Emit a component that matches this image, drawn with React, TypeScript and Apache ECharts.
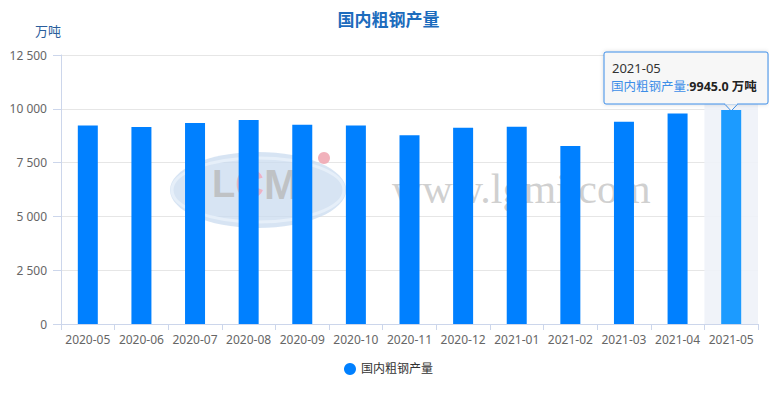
import React, { useEffect, useRef } from "react";
import * as echarts from "echarts";

const categories = [
  "2020-05", "2020-06", "2020-07", "2020-08", "2020-09", "2020-10", "2020-11",
  "2020-12", "2021-01", "2021-02", "2021-03", "2021-04", "2021-05",
];
const production = [9227, 9158, 9336, 9485, 9255, 9220, 8766, 9125, 9170, 8270, 9402, 9785, 9945];
const seriesName = "国内粗钢产量";
const unit = "万吨";
const yTicks = [0, 2500, 5000, 7500, 10000, 12500];

const FONT = '"Noto Sans", "Noto Sans CJK SC", sans-serif';
const fmt = (v: number) => String(v).replace(/\B(?=(\d{3})+(?!\d))/g, " ");

export default function App() {
  const ref = useRef<HTMLDivElement>(null);
  useEffect(() => {
    if (!ref.current) return;
    const chart = echarts.init(ref.current, undefined, { renderer: "svg" });
    const option: any = {
      animation: false,
      backgroundColor: "#fff",
      textStyle: { fontFamily: FONT },
      title: {
        text: seriesName,
        left: "center",
        top: 6,
        textStyle: { fontSize: 17, fontWeight: "bold", color: "#1d6cbd", fontFamily: FONT },
      },
      grid: { left: 61, right: 19, top: 55, bottom: 70 },
      legend: {
        bottom: 14,
        left: "center",
        icon: "circle",
        itemWidth: 12,
        itemHeight: 12,
        textStyle: { fontSize: 12, color: "#333", fontFamily: FONT },
        data: [seriesName],
      },
      xAxis: {
        type: "category",
        data: categories,
        axisLine: { lineStyle: { color: "#ccd6eb" } },
        axisTick: { show: true, length: 6, lineStyle: { color: "#ccd6eb" } },
        axisLabel: { color: "#666", fontSize: 12, margin: 9, interval: 0, fontFamily: FONT },
      },
      yAxis: {
        type: "value",
        min: yTicks[0],
        max: yTicks[yTicks.length - 1],
        interval: 2500,
        name: unit,
        nameGap: 18,
        nameTextStyle: { color: "#2a5d9c", fontSize: 13, align: "right", fontFamily: FONT },
        axisLine: { show: true, lineStyle: { color: "#ccd6eb" } },
        axisTick: { show: true, length: 8, lineStyle: { color: "#ccd6eb" } },
        axisLabel: { color: "#666", fontSize: 12, margin: 14, formatter: fmt, fontFamily: FONT },
        splitLine: { lineStyle: { color: "#e6e6e6" } },
      },
      series: [
        {
          name: seriesName,
          type: "bar",
          data: production,
          barWidth: 20,
          itemStyle: { color: "#0080ff" },
          emphasis: { itemStyle: { color: "#1c9bff" } },
          z: 3,
        },
      ],
    };
    chart.setOption(option);

    const last = categories.length - 1;
    const p = chart.convertToPixel({ seriesIndex: 0 }, [categories[last], production[last]]) as number[];
    const base = chart.convertToPixel({ seriesIndex: 0 }, [categories[last], 0]) as number[];
    const top = chart.convertToPixel({ seriesIndex: 0 }, [categories[last], yTicks[yTicks.length - 1]]) as number[];
    const catW = (777 - 61 - 19) / categories.length;
    const bx = 604, by = 52, bw = 164, bh = 52;

    chart.setOption({
      graphic: [
        // watermark
        {
          type: "group",
          silent: true,
          z: 1,
          children: [
            { type: "ellipse", shape: { cx: 258, cy: 190, rx: 88, ry: 38 }, style: { fill: "#c9dbef", opacity: 0.75 } },
            { type: "ellipse", shape: { cx: 258, cy: 190, rx: 86, ry: 32 }, style: { fill: "none", stroke: "#e6eff9", lineWidth: 3 } },
            {
              type: "text",
              x: 212,
              y: 162,
              style: {
                text: "{l|L}{c|C}{m|M}{i|i}",
                opacity: 0.8,
                rich: {
                  l: { fontSize: 38, fontWeight: "bold", fill: "#b9b9b9", fontFamily: "sans-serif" },
                  c: { fontSize: 40, fontWeight: "bold", fill: "#f0a8b4", fontFamily: "sans-serif" },
                  m: { fontSize: 42, fontWeight: "bold", fill: "#b9b9b9", fontFamily: "sans-serif" },
                  i: { fontSize: 44, fontWeight: "bold", fill: "#b9b9b9", fontFamily: "sans-serif" },
                },
              },
            },
            { type: "circle", shape: { cx: 324, cy: 158, r: 6 }, style: { fill: "#f0a8b4", opacity: 0.9 } },
            { type: "text", x: 392, y: 168, style: { text: "www.lgmi.com", font: "42px serif", fill: "#c4c4c4", opacity: 0.8 } },
          ],
        },
        // axis shadow
        {
          type: "rect",
          silent: true,
          z: 0,
          shape: { x: p[0] - catW / 2, y: top[1], width: catW, height: base[1] - top[1] },
          style: { fill: "#eef2f8", opacity: 0.9 },
        },
        // tooltip
        {
          type: "group",
          z: 200,
          children: [
            {
              type: "polygon",
              shape: { points: [[p[0] - 7, by + bh - 0.5], [p[0] + 7, by + bh - 0.5], [p[0], p[1] + 1]] },
              style: { fill: "#f7f7f7", stroke: "#3d8ee8", lineWidth: 1 },
            },
            {
              type: "rect",
              shape: { x: bx, y: by, width: bw, height: bh, r: 2 },
              style: { fill: "#f7f7f7", stroke: "#3d8ee8", lineWidth: 1, shadowBlur: 4, shadowColor: "rgba(0,0,0,0.15)" },
            },
            {
              type: "rect",
              shape: { x: p[0] - 6, y: by + bh - 1.5, width: 12, height: 2 },
              style: { fill: "#f7f7f7" },
            },
            { type: "text", x: bx + 8, y: by + 9, style: { text: categories[last], font: "13px " + FONT, fill: "#333" } },
            {
              type: "text",
              x: bx + 7,
              y: by + 28,
              style: {
                text: "{a|" + seriesName + ":}{b|" + production[last].toFixed(1) + " " + unit + "}",
                rich: {
                  a: { fontSize: 12.5, fill: "#3d8ee8", fontFamily: FONT },
                  b: { fontSize: 12.5, fill: "#222", fontWeight: "bold", fontFamily: FONT },
                },
              },
            },
          ],
        },
      ],
    });
    chart.dispatchAction({ type: "highlight", seriesIndex: 0, dataIndex: last });

    return () => chart.dispose();
  }, []);
  return <div ref={ref} style={{ width: 777, height: 394, margin: -8 }} />;
}
